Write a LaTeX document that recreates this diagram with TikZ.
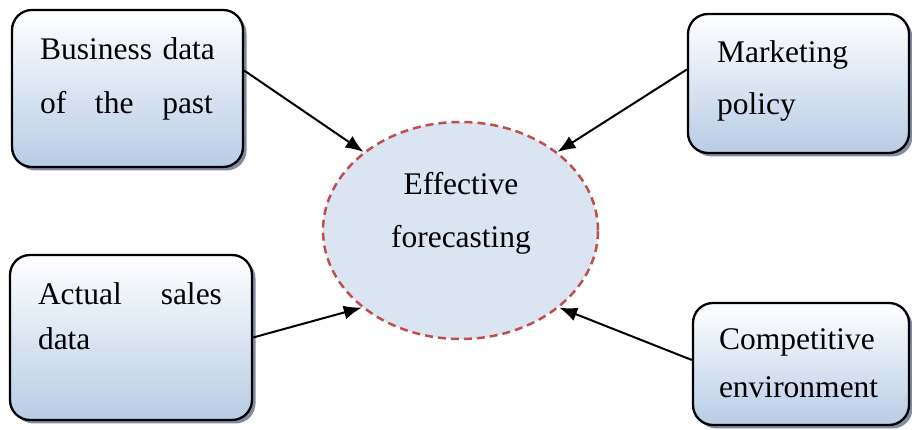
\documentclass[tikz,border=0pt]{standalone}
\usepackage{fontspec}
\setmainfont{Liberation Serif}
\usetikzlibrary{arrows.meta,shadows,shapes.geometric}
\begin{document}
\begin{tikzpicture}[x=1pt,y=1pt,
  factorbox/.style={draw=black,line width=2.3pt,rounded corners=20pt,
    top color=white,bottom color=boxColor,inner sep=0pt,
    drop shadow={shadow xshift=3.5pt,shadow yshift=-3.5pt,fill=shadowColor,opacity=1}},
  boxtext/.style={anchor=base west,inner sep=0pt,outer sep=0pt,align=left,
    text width=185pt,font=\fontsize{31.5}{54}\selectfont},
  arr/.style={line width=2pt,-{Latex[length=18pt,width=14pt]}}]
\definecolor{boxColor}{rgb}{0.72,0.80,0.90}
\definecolor{shadowColor}{rgb}{0.50,0.55,0.63}
\definecolor{fillColor}{rgb}{0.86,0.90,0.95}
\definecolor{drawColor}{rgb}{0.75,0.31,0.30}
\useasboundingbox (0,0) rectangle (912,430);

\node[ellipse,minimum width=275pt,minimum height=217pt,fill=fillColor,draw=drawColor,
  line width=2.5pt,dash pattern=on 8pt off 5pt] (fc) at (460.5,199.5) {};
\node[anchor=base,inner sep=0pt,outer sep=0pt,align=center,
  font=\fontsize{31.5}{53}\selectfont] (fctext) at (461,182) {Effective\\forecasting};

\node[factorbox,minimum width=231pt,minimum height=157pt] (past) at (127.5,341.5) {};
\node[factorbox,minimum width=221pt,minimum height=139pt] (policy) at (798.5,346.5) {};
\node[factorbox,minimum width=242pt,minimum height=165pt] (sales) at (131,92.5) {};
\node[factorbox,minimum width=216pt,minimum height=122pt] (env) at (801,66) {};

\node[boxtext,text width=173pt] (pasttext) at (40,370) {Business~data\\of\hfill the\hfill past};
\node[boxtext] (policytext) at (717,367) {Marketing\\[-2pt]policy};
\node[boxtext,text width=184pt] (salestext) at (38,125) {Actual\hfill sales\\[-9pt]data};
\node[boxtext] (envtext) at (719,80) {Competitive\\[-6pt]environment};

\draw[arr] ([yshift=18pt]past.east) -- (fc.141);
\draw[arr] ([yshift=14pt]policy.west) -- (fc.39);
\draw[arr] (sales.east) -- (fc.218);
\draw[arr] ([yshift=4pt]env.west) -- (fc.322);
\end{tikzpicture}
\end{document}
